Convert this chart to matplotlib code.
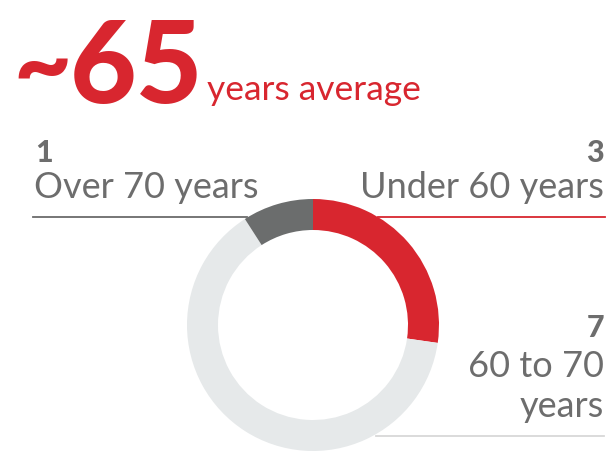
import matplotlib.pyplot as plt
from matplotlib.lines import Line2D

# data
labels = ["Under 60 years", "60 to 70 years", "Over 70 years"]
counts = [3, 7, 1]
colors = ["#d8262f", "#e6e9ea", "#6b6d6d"]
headline = "~65"
headline_sub = "years average"

W, H = 612, 456
RED = "#d8262f"
GREY = "#6d6d6d"
FONT = "Lato"

fig = plt.figure(figsize=(W / 100, H / 100), dpi=100)


def fx(x):
    return x / W


def fy(y):
    # pixel from top -> figure fraction
    return 1 - y / H


# donut: centre (313, 326) px, radius 126 px
cx, cy, r = 313, 326, 126
ax = fig.add_axes([fx(cx - r), fy(cy + r), 2 * r / W, 2 * r / H])
ax.pie(counts, colors=colors, startangle=90, counterclock=False,
       radius=1.0, wedgeprops=dict(width=31 / r, linewidth=0))
ax.set_xlim(-1, 1)
ax.set_ylim(-1, 1)
ax.set_aspect("equal")
ax.axis("off")

# headline: tilde and number set apart like the original
fig.text(fx(13), fy(99), headline[0], color=RED, fontsize=72, fontweight="black",
         family=FONT, ha="left", va="baseline")
fig.text(fx(70), fy(103), headline[1:], color=RED, fontsize=83, fontweight="black",
         family=FONT, ha="left", va="baseline")
fig.text(fx(207), fy(100), headline_sub, color=RED, fontsize=25.5,
         family=FONT, ha="left", va="baseline")

# over 70
fig.text(fx(35), fy(162), str(counts[2]), color=GREY, fontsize=22,
         fontweight="black", family=FONT, ha="left", va="baseline")
fig.text(fx(34), fy(198), labels[2], color=GREY, fontsize=26,
         family=FONT, ha="left", va="baseline")
fig.add_artist(Line2D([fx(33), fx(247)], [fy(218), fy(218)], color="#6b6b6b",
                      lw=1.3, transform=fig.transFigure, zorder=0))

# under 60
fig.text(fx(604), fy(162), str(counts[0]), color=GREY, fontsize=22,
         fontweight="black", family=FONT, ha="right", va="baseline")
fig.text(fx(604), fy(198), labels[0], color=GREY, fontsize=26,
         family=FONT, ha="right", va="baseline")
fig.add_artist(Line2D([fx(378), fx(605)], [fy(218), fy(218)], color=RED,
                      lw=1.3, transform=fig.transFigure, zorder=0))

# 60 to 70
fig.text(fx(604), fy(337), str(counts[1]), color=GREY, fontsize=22,
         fontweight="black", family=FONT, ha="right", va="baseline")
fig.text(fx(604), fy(377), "60 to 70", color=GREY, fontsize=26,
         family=FONT, ha="right", va="baseline")
fig.text(fx(604), fy(417), "years", color=GREY, fontsize=26,
         family=FONT, ha="right", va="baseline")
fig.add_artist(Line2D([fx(376), fx(604)], [fy(437), fy(437)], color="#d8d8d8",
                      lw=1.3, transform=fig.transFigure, zorder=0))

fig.savefig("out.png", dpi=100, facecolor="white")
